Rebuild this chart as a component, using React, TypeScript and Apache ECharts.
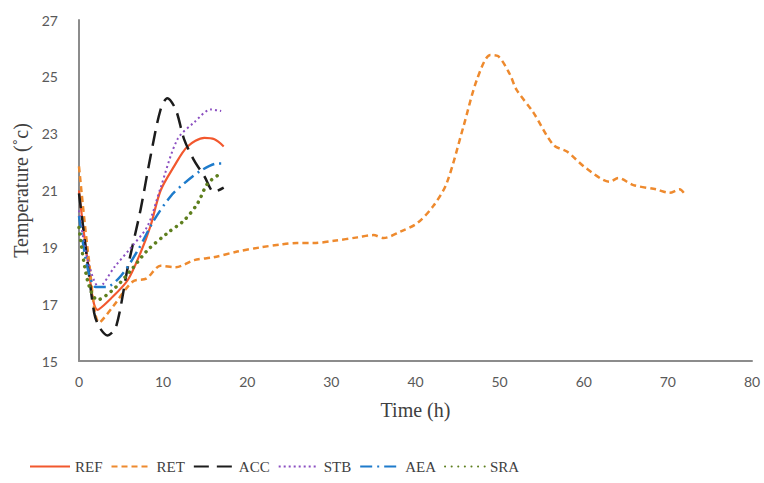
import React, { useEffect, useRef } from "react";
import * as echarts from "echarts";

const xTicks = [0, 10, 20, 30, 40, 50, 60, 70, 80];
const yTicks = [15, 17, 19, 21, 23, 25, 27];

const refHours = [0, 1, 2.2, 3.8, 5.8, 7.3, 8.5, 9.7, 11.3, 12.9, 14.9, 16.1, 17.2];
const refTemps = [21.0, 18.6, 16.8, 17.2, 17.85, 18.8, 19.75, 21.0, 21.85, 22.55, 22.85, 22.8, 22.55];

const retHours = [0, 1.2, 2.4, 4, 6.4, 8, 9.7, 11.5, 13.7, 16, 18.8, 21.6, 24, 25.9, 27.9, 30.3, 33.1, 35, 36.2, 38.2, 40.2, 42.1, 43.7, 45.7, 47.3, 48.9, 49.8, 51.2, 52, 54, 56.4, 58, 60.3, 63.1, 64.1, 65.9, 68.6, 70.2, 71.4, 72];
const retTemps = [21.85, 18.5, 16.35, 16.9, 17.8, 17.9, 18.35, 18.3, 18.55, 18.65, 18.85, 19.0, 19.1, 19.15, 19.15, 19.23, 19.35, 19.43, 19.33, 19.55, 19.85, 20.45, 21.25, 23.25, 24.9, 25.77, 25.73, 25.1, 24.55, 23.75, 22.6, 22.37, 21.78, 21.31, 21.44, 21.19, 21.04, 20.92, 21.04, 20.88];

const accHours = [0, 1, 1.8, 2.4, 3.4, 4.4, 5.8, 7.3, 8.5, 9.7, 10.5, 11.5, 12.5, 13.7, 14.9, 16.05, 17.2];
const accTemps = [20.9, 18.5, 16.7, 16.2, 15.9, 16.2, 18.3, 20.3, 22.2, 23.85, 24.25, 23.85, 22.8, 22.05, 21.5, 20.95, 21.1];

const stbHours = [0, 1, 2.4, 4.2, 6.2, 8.15, 9.7, 11.7, 13.7, 15.7, 16.9];
const stbTemps = [20.3, 18.6, 17.6, 18.3, 19.0, 19.75, 21.1, 22.8, 23.4, 23.85, 23.8];

const aeaHours = [0, 1, 2, 3.2, 5, 7, 8.9, 10.9, 12.5, 14.5, 16.45, 17.2];
const aeaTemps = [20.1, 18.3, 17.6, 17.6, 18.0, 18.9, 19.95, 20.8, 21.25, 21.7, 21.95, 21.95];

const sraHours = [0, 1, 2.2, 4.2, 6.2, 8.15, 10.5, 12.5, 14.1, 15.3, 16.85];
const sraTemps = [19.7, 17.85, 17.15, 17.55, 18.2, 18.9, 19.5, 19.95, 20.55, 21.25, 21.6];

const seriesNames = ["REF", "RET", "ACC", "STB", "AEA", "SRA"];

const pairs = (xs: number[], ys: number[]) => xs.map((x, i) => [x, ys[i]]);

export default function App() {
  const ref = useRef<HTMLDivElement>(null);
  useEffect(() => {
    if (!ref.current) return;
    const chart = echarts.init(ref.current, undefined, { renderer: "svg" });
    const serif = "'Liberation Serif', 'Times New Roman', serif";
    const mk = (name: string, data: number[][], color: string, width: number, type: any, cap: any = "butt", smooth = 0.3) => ({
      name,
      type: "line",
      data,
      smooth,
      symbol: "none",
      showSymbol: false,
      lineStyle: { color, width, type, cap },
      itemStyle: { color },
    });
    chart.setOption({
      animation: false,
      backgroundColor: "#ffffff",
      grid: { left: 79, right: 12, top: 20, bottom: 122, containLabel: false, outerBoundsMode: "none" },
      legend: {
        data: seriesNames,
        left: 24,
        top: 454,
        itemWidth: 40,
        itemHeight: 14,
        itemGap: 8,
        itemStyle: { opacity: 0, borderWidth: 0 },
        textStyle: { fontFamily: serif, fontSize: 15, color: "#404040" },
      },
      xAxis: {
        type: "value",
        min: 0,
        max: 80,
        interval: 10,
        name: "Time (h)",
        nameLocation: "middle",
        nameGap: 39,
        nameTextStyle: { fontFamily: serif, fontSize: 20, color: "#404040" },
        axisLine: { show: true, lineStyle: { color: "#8c8c8c", width: 2 } },
        axisTick: { show: false },
        splitLine: { show: false },
        axisLabel: { fontFamily: "Lato, 'Open Sans', sans-serif", fontSize: 14, color: "#595959", margin: 13 },
      },
      yAxis: {
        type: "value",
        min: 15,
        max: 27,
        interval: 2,
        name: "Temperature (˚c)",
        nameLocation: "middle",
        nameGap: 47,
        nameTextStyle: { fontFamily: serif, fontSize: 20, color: "#404040" },
        axisLine: { show: true, lineStyle: { color: "#8c8c8c", width: 2 } },
        axisTick: { show: false },
        splitLine: { show: false },
        axisLabel: { fontFamily: "Lato, 'Open Sans', sans-serif", fontSize: 14, color: "#595959", margin: 21 },
      },
      series: [
        mk("REF", pairs(refHours, refTemps), "#F2582E", 2.2, "solid"),
        mk("RET", pairs(retHours, retTemps), "#EE8A2E", 2.5, [6, 4]),
        mk("ACC", pairs(accHours, accTemps), "#1c1c1c", 2.5, [15, 8]),
        mk("STB", pairs(stbHours, stbTemps), "#8B4FC1", 2, [2, 3]),
        mk("AEA", pairs(aeaHours, aeaTemps), "#1E7BCB", 2.5, [12, 5, 2, 5]),
        mk("SRA", pairs(sraHours, sraTemps), "#5E7F1E", 3.5, [0.1, 6.5], "round"),
      ],
    });
    return () => chart.dispose();
  }, []);
  return <div ref={ref} style={{ width: 764, height: 483, position: "absolute", left: 0, top: 0 }} />;
}
